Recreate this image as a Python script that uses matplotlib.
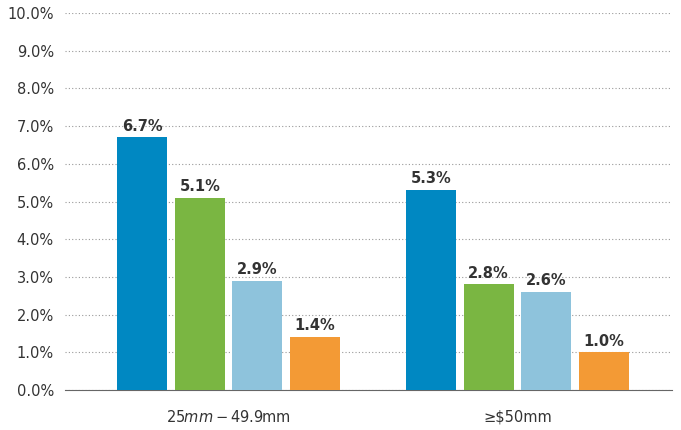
import matplotlib
matplotlib.use("Agg")
import matplotlib.pyplot as plt
import numpy as np

categories = ["$25mm - $49.9mm", "≥$50mm"]
series1 = [6.7, 5.3]
series2 = [5.1, 2.8]
series3 = [2.9, 2.6]
series4 = [1.4, 1.0]
yticks = [0, 1, 2, 3, 4, 5, 6, 7, 8, 9, 10]
colors = ["#0088c2", "#7ab642", "#8ec3dc", "#f39a35"]

fig = plt.figure(figsize=(6.81, 4.30), dpi=100)
ax = fig.add_axes([65/681, 40/430, 607/681, 377/430])
x = np.arange(len(categories))
pitch, width = 0.199, 0.173
for i, (vals, c) in enumerate(zip([series1, series2, series3, series4], colors)):
    pos = x + (i - 1.5) * pitch
    ax.bar(pos, vals, width=width, color=c, zorder=3)
    for p, v in zip(pos, vals):
        ax.text(p, v + 0.1, f"{v:.1f}%", ha="center", va="bottom",
                fontsize=10.5, fontweight="bold", color="#333333")
ax.set_xlim(-0.566, 1.535)
ax.set_ylim(0, 10)
ax.set_yticks(yticks)
ax.set_yticklabels([f"{t:.1f}%" for t in yticks], fontsize=10.5, color="#333333")
ax.set_xticks(x)
ax.set_xticklabels(categories, fontsize=10.5, color="#333333")
ax.tick_params(axis="both", length=0, pad=14)
ax.tick_params(axis="y", pad=8)
ax.yaxis.grid(True, linestyle=(0, (1, 2)), color="#999999", linewidth=0.8, zorder=0)
for s in ["top", "right", "left"]:
    ax.spines[s].set_visible(False)
ax.spines["bottom"].set_color("#666666")
fig.savefig("out.png", dpi=100)
